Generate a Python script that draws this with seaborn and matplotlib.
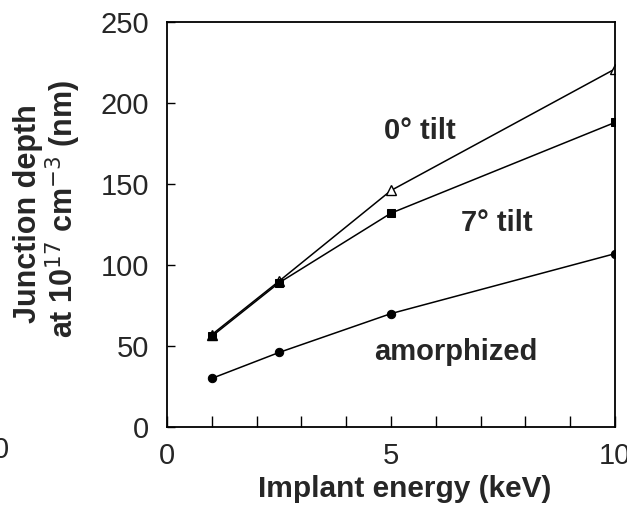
import matplotlib
matplotlib.use("Agg")
import matplotlib.pyplot as plt
import seaborn as sns
import pandas as pd
from matplotlib.ticker import MultipleLocator, FixedLocator

energy = [1, 2.5, 5, 10]
tilt0 = [57, 90, 146, 221]
tilt7 = [56, 89, 132, 188]
amorphized = [30, 46, 70, 107]

x_ticks = [0, 5, 10]
x_tick_labels = ["0", "5", "10"]
y_ticks = [0, 50, 100, 150, 200, 250]
y_tick_labels = ["0", "50", "100", "150", "200", "250"]

sns.set_style("white")
plt.rcParams['font.family'] = ['Liberation Sans', 'DejaVu Sans']

W, H = 627, 511
fig = plt.figure(figsize=(W / 100, H / 100), dpi=100)
ax = fig.add_axes([167 / W, 1 - 427 / H, (615 - 167) / W, (427 - 22) / H])

df = pd.DataFrame({"energy": energy, "t0": tilt0, "t7": tilt7, "am": amorphized})

sns.lineplot(data=df, x="energy", y="t0", ax=ax, color="black", lw=1.1,
             marker="^", markersize=7, markerfacecolor="white",
             markeredgecolor="black", markeredgewidth=1.0)
sns.lineplot(data=df, x="energy", y="t7", ax=ax, color="black", lw=1.1,
             marker="s", markersize=6, markerfacecolor="black",
             markeredgecolor="black")
sns.lineplot(data=df, x="energy", y="am", ax=ax, color="black", lw=1.1,
             marker="o", markersize=6, markerfacecolor="black",
             markeredgecolor="black")

ax.set_xlim(0, 10)
ax.set_ylim(0, 250)
ax.xaxis.set_major_locator(FixedLocator(x_ticks))
ax.set_xticklabels(x_tick_labels)
ax.xaxis.set_minor_locator(MultipleLocator(1))
ax.yaxis.set_major_locator(FixedLocator(y_ticks))
ax.set_yticklabels(y_tick_labels)

ax.tick_params(axis="x", which="both", direction="in", length=8, width=1.0,
               color="black", labelsize=21, pad=11, bottom=True, top=False)
ax.tick_params(axis="y", which="major", direction="in", length=6, width=1.0,
               color="black", labelsize=21, pad=13, left=True, right=False)
for s in ax.spines.values():
    s.set_color("black")
    s.set_linewidth(1.3)

ax.set_xlabel("")
ax.set_ylabel("")

ax.text(5.65, 183, "0° tilt", fontsize=21, fontweight="bold", ha="center", va="center")
ax.text(7.37, 126, "7° tilt", fontsize=21, fontweight="bold", ha="center", va="center")
ax.text(6.45, 46, "amorphized", fontsize=21, fontweight="bold", ha="center", va="center")

fig.text(405 / W, 1 - 489 / H, "Implant energy (keV)", fontsize=21.5,
         fontweight="bold", ha="center", va="center")
fig.text(28 / W, 1 - 214 / H, "Junction depth", fontsize=22, fontweight="bold",
         rotation=90, ha="center", va="center")
fig.text(63 / W, 1 - 209 / H, r"at 10$^{17}$ cm$^{-3}$ (nm)", fontsize=22,
         fontweight="bold", rotation=90, ha="center", va="center")
fig.text(1 / W, 1 - 450 / H, "0", fontsize=21, ha="center", va="center")

fig.savefig("out.png", dpi=100)
